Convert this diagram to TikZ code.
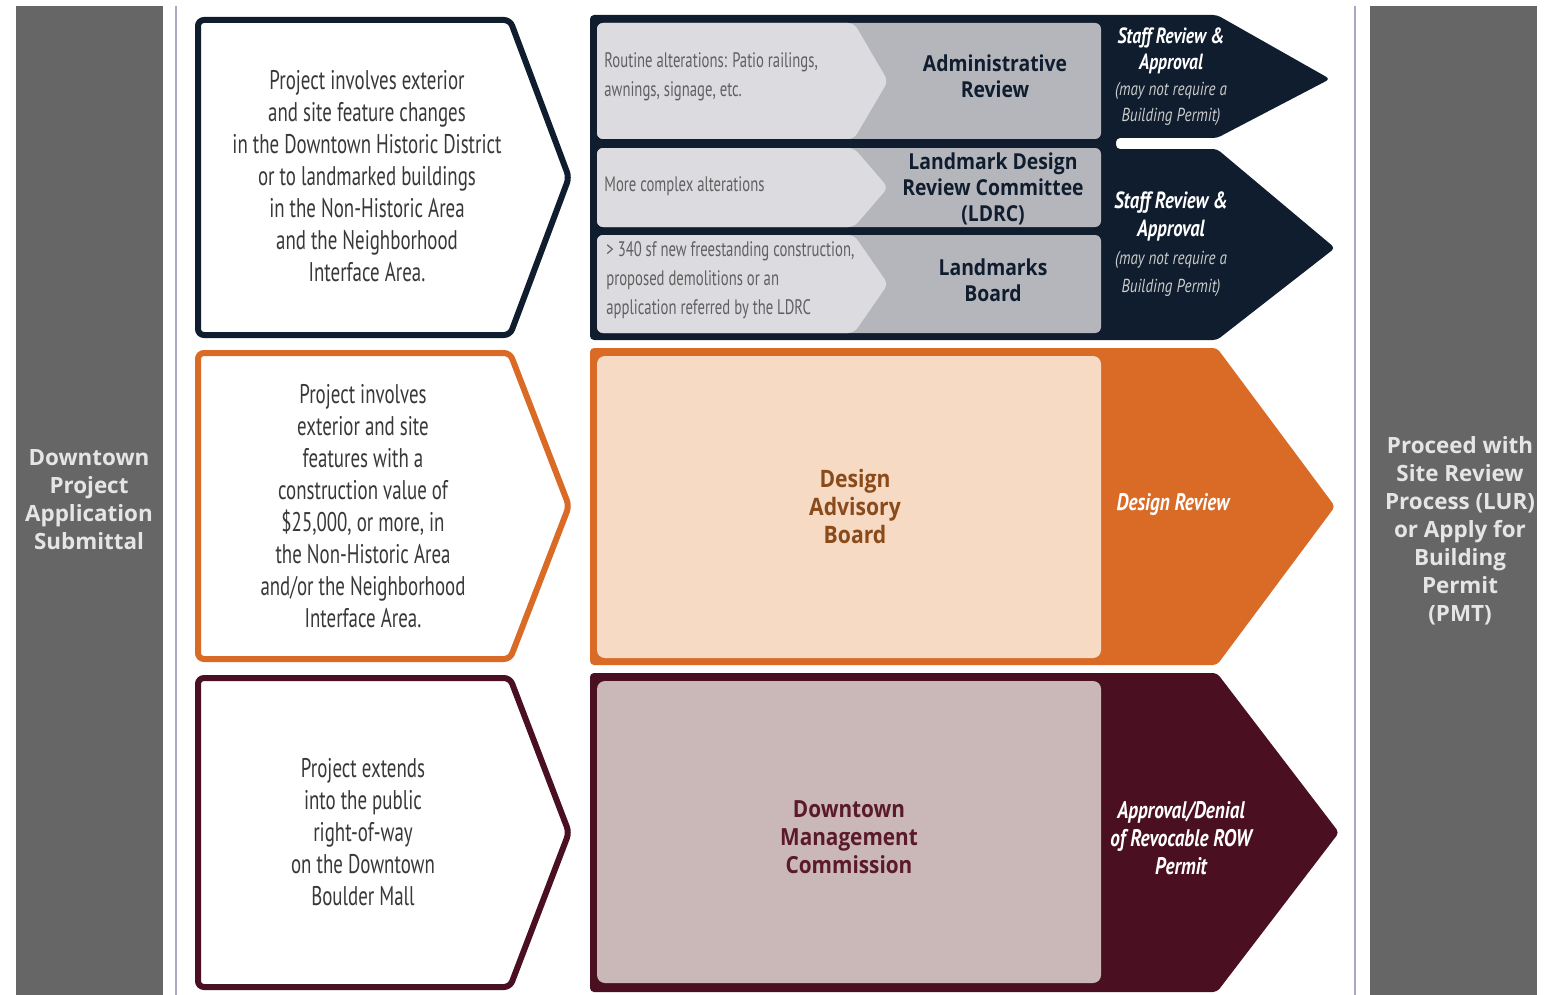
\documentclass[tikz,border=0pt]{standalone}
\usepackage{fontspec}
\setmainfont{Open Sans}
\newfontfamily\cond[FakeStretch=0.7]{PT Sans}
\newfontfamily\condb[FakeStretch=0.8]{PT Sans}
\newfontfamily\labfont[FakeStretch=0.88]{Open Sans}
\definecolor{sidegray}{HTML}{666666}
\definecolor{rule}{HTML}{A8A8C0}
\definecolor{navy}{HTML}{0F1D2E}
\definecolor{lightbox}{HTML}{DCDCE0}
\definecolor{midbox}{HTML}{B5B5BC}
\definecolor{orng}{HTML}{D96B27}
\definecolor{peach}{HTML}{F6DAC4}
\definecolor{brown}{HTML}{8A4A1A}
\definecolor{maroon}{HTML}{4A0F20}
\definecolor{rose}{HTML}{CAB8B8}
\definecolor{wine}{HTML}{5A1A2A}
\definecolor{bodytext}{HTML}{383838}
% outline chevron on the left: top, bottom, colour
\newcommand{\cbox}[3]{
	\draw [inbox, draw=#3] (198,#1) -- (510,#1) -- (569,{(#1+#2)/2}) -- (510,#2) -- (198,#2) -- cycle;
	}
% filled arrow on the right: top, bottom, tip x, colour
\newcommand{\bigarrow}[4]{
	\fill [#4, rounded corners=2pt] (590,#1) -- (1217,#1) -- (#3,{(#1+#2)/2}) -- (1217,#2) -- (590,#2) -- cycle;
	}
% grey review box with lighter chevron: top, bottom
\newcommand{\revbox}[2]{
	\fill [midbox, rounded corners=3pt] (597,#1) rectangle (1101,#2);
	\fill [lightbox, rounded corners=3pt] (597,#1) -- (854,#1) -- (888,{(#1+#2)/2}) -- (854,#2) -- (597,#2) -- cycle;
	}
% small print under the staff review
\newcommand{\note}[1]{{\mdseries\color{white!80!black}\fontsize{9.4}{12.5}\selectfont #1}}
\begin{document}
\begin{tikzpicture}[
      x=0.5pt, y=-0.5pt,
      inbox/.style={line width=3pt, rounded corners=3pt, fill=white},
      side/.style={text=white!90!black, align=center, font=\bfseries\fontsize{11.2}{14}\selectfont},
      cond/.style={text=bodytext, align=center, font=\cond\fontsize{13.5}{16}\selectfont},
      small/.style={text=bodytext!80!white, align=left, anchor=west, inner sep=0pt, font=\cond\fontsize{10.5}{14.5}\selectfont},
      board/.style={align=center, font=\labfont\bfseries\fontsize{11}{13}\selectfont},
      staff/.style={text=white, align=center, font=\condb\bfseries\itshape\fontsize{11}{13}\selectfont}
    ]
    \useasboundingbox (0,0) rectangle (1552,995);
    % side bars and rules
    \fill [sidegray] (16,6) rectangle (163,995);
    \fill [sidegray] (1370,6) rectangle (1537,995);
    \draw [rule, line width=1.2pt] (176,6) -- (176,995);
    \draw [rule, line width=1.2pt] (1355,6) -- (1355,995);
    \node[side] (submit) at (89,500) {Downtown\\Project\\Application\\Submittal};
    \node[side] (proceed) at (1460,531) {Proceed with\\Site Review\\Process (LUR)\\or Apply for\\Building\\Permit\\(PMT)};
    % left chevrons
    \cbox{20}{335}{navy};
    \cbox{353}{659}{orng};
    \cbox{678}{987}{maroon};
    \node[cond] (hist) at (367,176) {Project involves exterior\\and site feature changes\\in the Downtown Historic District\\or to landmarked buildings\\in the Non-Historic Area\\and the Neighborhood\\Interface Area.};
    \node[cond] (value) at (363,506) {Project involves\\exterior and site\\features with a\\construction value of\\\$25,000, or more, in\\the Non-Historic Area\\and/or the Neighborhood\\Interface Area.};
    \node[cond] (mall) at (363,832) {Project extends\\into the public\\right-of-way\\on the Downtown\\Boulder Mall};
    % historic row
    \fill [navy, rounded corners=2pt] (590,15) -- (1217,15) -- (1330,79) -- (1217,138) -- (1116,138)
        -- (1116,149) -- (1217,149) -- (1335,248) -- (1217,340) -- (590,340) -- cycle;
    \revbox{23}{139};
    \revbox{148}{227};
    \revbox{235}{333};
    \node[small] (routine) at (604,77) {Routine alterations: Patio railings,\\awnings, signage, etc.};
    \node[small] (complex) at (604,186) {More complex alterations};
    \node[small] (demo) at (606,280) {> 340 sf new freestanding construction,\\proposed demolitions or an\\application referred by the LDRC};
    \node[board, text=navy] (admin) at (995,76) {Administrative\\Review};
    \node[board, text=navy] (ldrc) at (993,189) {Landmark Design\\Review Committee\\(LDRC)};
    \node[board, text=navy] (lmb) at (993,280) {Landmarks\\Board};
    \node[staff] (staffa) at (1171,77) {Staff Review \&\\Approval\\\note{(may not require a}\\\note{Building Permit)}};
    \node[staff, font=\condb\bfseries\itshape\fontsize{11.7}{14}\selectfont] (staffb) at (1171,244) {Staff Review \&\\Approval\\\note{(may not require a}\\\note{Building Permit)}};
    % design row
    \bigarrow{348}{665}{1335}{orng};
    \fill [peach, rounded corners=4pt] (597,356) rectangle (1101,658);
    \node[board, text=brown, font=\labfont\bfseries\fontsize{12}{14}\selectfont] (dab) at (855,506) {Design\\Advisory\\Board};
    \node[staff, font=\condb\bfseries\itshape\fontsize{12}{14}\selectfont] (design) at (1173,505) {Design Review};
    % mall row
    \bigarrow{673}{992}{1339}{maroon};
    \fill [rose, rounded corners=4pt] (597,681) rectangle (1101,983);
    \node[board, text=wine, font=\labfont\bfseries\fontsize{11.8}{14}\selectfont] (dmc) at (849,837) {Downtown\\Management\\Commission};
    \node[staff, font=\condb\bfseries\itshape\fontsize{12}{14}\selectfont] (row) at (1181,838) {Approval/Denial\\of Revocable ROW\\Permit};
\end{tikzpicture}
\end{document}
